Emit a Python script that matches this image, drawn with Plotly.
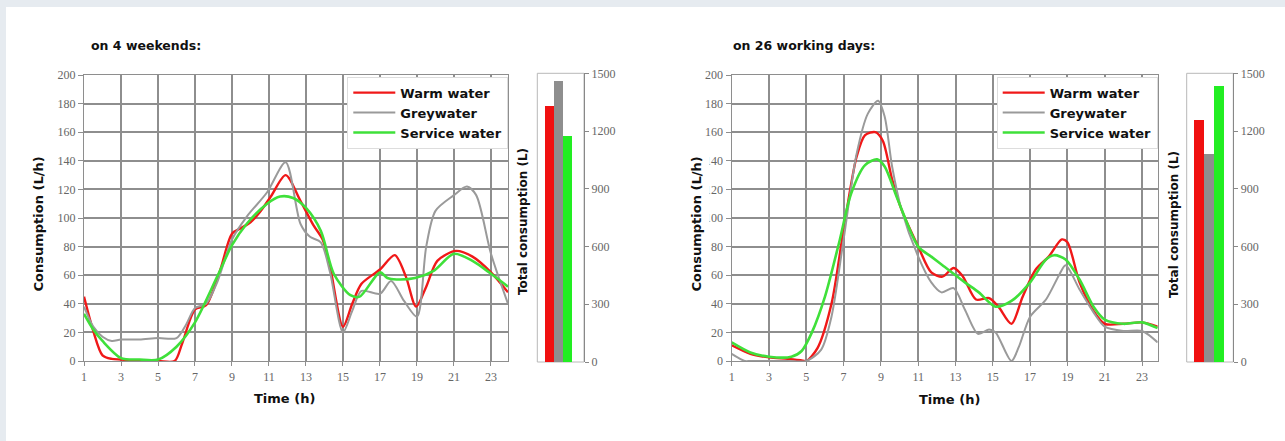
import plotly.graph_objects as go

W, H = 1285, 441

# ---------------- data: weekends (left) ----------------
we_warm_t = [1, 1.5, 2, 2.5, 3, 4, 5, 5.9, 6.3, 7, 7.6, 8.35, 9, 9.5, 10, 10.5, 11.1, 11.9, 12.7, 13.4, 13.9, 14.3, 15, 15.5, 16, 17, 17.8, 18.4, 18.95, 19.5, 20.1, 21.1, 22, 23, 23.92]
we_warm_v = [45, 21, 4, 1.5, 1, 0, 0, 0, 12, 36, 39, 63, 89, 93, 97, 104, 115, 130, 112, 95, 85, 66, 24, 40, 54, 64, 74, 59, 38, 52, 70, 77, 73, 62, 48]

we_grey_t = [1, 1.5, 2, 2.5, 3, 4, 5, 6, 6.5, 7, 7.6, 8.2, 9, 9.8, 10.9, 11.9, 12.7, 13.2, 13.8, 14.3, 15, 15.5, 16, 17, 17.6, 18.3, 19, 19.5, 20, 21, 21.7, 22.2, 23, 23.92]
we_grey_v = [38, 24, 17, 14, 15, 15, 16, 16, 25, 37, 40, 55, 85, 101, 118, 139, 96, 87, 83, 62, 20, 35, 49, 47, 56, 42, 31, 80, 105, 116, 122, 116, 75, 40]

we_serv_t = [1, 1.5, 2, 3, 4, 5, 6, 7, 8.2, 9, 9.8, 10.9, 11.6, 12.3, 13, 13.8, 14.5, 15.4, 15.9, 17, 17.4, 17.9, 18.9, 19.9, 21, 22, 23, 23.92]
we_serv_v = [33, 22, 14, 2, 1, 1, 10, 27, 59, 81, 96, 110, 115, 114, 107, 91, 61, 46, 45, 62, 58, 57, 58, 63, 75, 70, 61, 52]

we_totals = [1326, 1461, 1174]

# ---------------- data: working days (right) ----------------
wd_warm_t = [1, 2, 3, 4, 4.7, 5, 5.6, 6.35, 7, 7.7, 8.15, 8.7, 9.1, 9.6, 10.1, 11, 11.7, 12.3, 12.9, 13.4, 14.1, 14.8, 15.3, 16, 16.6, 17.3, 18, 18.7, 19, 19.65, 20.4, 21, 22, 23, 23.84]
wd_warm_v = [11, 5, 2.5, 1.5, 0.5, 0, 9, 40, 92, 143, 158, 160, 154, 127, 106, 80, 62, 59, 65, 59, 43, 44, 38, 26, 45, 64, 73, 85, 83, 55, 35, 26, 26, 27, 24]

wd_grey_t = [1, 1.7, 2, 3, 4, 5, 5.8, 6.35, 7, 7.7, 8.3, 8.85, 9.2, 9.6, 10.1, 11, 11.7, 12.25, 12.9, 13.5, 14.2, 14.8, 15.15, 16, 16.4, 17, 17.85, 18.55, 18.9, 19.65, 20.4, 21, 22, 23, 23.84]
wd_grey_v = [5, 0, 0, 0, 0, 0, 8, 31, 85, 145, 173, 182, 171, 136, 106, 73, 55, 48, 51, 36, 19, 22, 20, 0, 10, 31, 43, 60, 67, 50, 34, 24, 21, 21, 13]

wd_serv_t = [1, 2, 3, 4.2, 4.75, 5.3, 6, 6.8, 7.4, 8.15, 8.8, 9.2, 9.9, 11, 11.7, 12.3, 13.5, 14.25, 15.15, 16, 17, 17.85, 18.3, 18.9, 19.65, 20.4, 21, 22, 23, 23.84]
wd_serv_v = [13, 6, 3, 3, 7, 20, 45, 85, 117, 137, 141, 136, 113, 80, 73, 67, 55, 48, 38, 42, 55, 71, 74, 71, 57, 38, 29, 26, 27, 23]

wd_totals = [1255, 1081, 1431]

series_names = ["Warm water", "Greywater", "Service water"]
line_colors = ["#f01818", "#9a9a9a", "#3fe03a"]
bar_colors = ["#f01010", "#8e8e8e", "#22ee22"]
line_widths = [2.4, 2.0, 2.6]

x_ticks = [1, 3, 5, 7, 9, 11, 13, 15, 17, 19, 21, 23]
y_ticks = [0, 20, 40, 60, 80, 100, 120, 140, 160, 180, 200]
total_ticks = [0, 300, 600, 900, 1200, 1500]

panel_titles = ["on 4 weekends:", "on 26 working days:"]
y_title = "Consumption (L/h)"
x_title = "Time (h)"
total_title = "Total consumption (L)"

# ---------------- figure ----------------
fig = go.Figure()

left_series = [(we_warm_t, we_warm_v), (we_grey_t, we_grey_v), (we_serv_t, we_serv_v)]
right_series = [(wd_warm_t, wd_warm_v), (wd_grey_t, wd_grey_v), (wd_serv_t, wd_serv_v)]

for i, (t, v) in enumerate(left_series):
    fig.add_trace(go.Scatter(x=t, y=v, mode="lines", name=series_names[i],
                             line=dict(color=line_colors[i], width=line_widths[i], shape="spline", smoothing=0.8),
                             xaxis="x", yaxis="y", legend="legend"))
for i, (t, v) in enumerate(right_series):
    fig.add_trace(go.Scatter(x=t, y=v, mode="lines", name=series_names[i],
                             line=dict(color=line_colors[i], width=line_widths[i], shape="spline", smoothing=0.8),
                             xaxis="x2", yaxis="y2", legend="legend2"))

fig.add_trace(go.Bar(x=series_names, y=we_totals, marker=dict(color=bar_colors, line=dict(width=0)),
                     xaxis="x3", yaxis="y3", showlegend=False))
fig.add_trace(go.Bar(x=series_names, y=wd_totals, marker=dict(color=bar_colors, line=dict(width=0)),
                     xaxis="x4", yaxis="y4", showlegend=False))

def px_x(p):
    return p / W

def px_y(p):
    return 1 - p / H

grid_c = "#8e8e8e"
tick_font = dict(family="Liberation Serif, Times New Roman, serif", size=12, color="#666666")

main_y_dom = [px_y(361), px_y(75)]
bar_y_dom = [px_y(362), px_y(73.3)]

common_x = dict(showgrid=True, gridcolor=grid_c, gridwidth=1.6, tickvals=x_ticks, zeroline=False,
                showline=True, mirror=True, linecolor=grid_c, linewidth=1.4, automargin=False,
                ticks="outside", ticklen=4, tickcolor=grid_c, tickfont=tick_font, fixedrange=True)
common_y = dict(showgrid=True, gridcolor=grid_c, gridwidth=1.6, tickvals=y_ticks, range=[0, 200], zeroline=False,
                showline=True, mirror=True, linecolor=grid_c, linewidth=1.4, automargin=False,
                ticks="outside", ticklen=5, tickcolor=grid_c, tickfont=tick_font, domain=main_y_dom)
bar_y = dict(range=[0, 1500], tickvals=total_ticks, showgrid=False, zeroline=False, side="right",
             showline=True, linecolor="#888888", linewidth=1.2, ticks="outside", ticklen=4, automargin=False,
             tickcolor="#888888", tickfont=tick_font, domain=bar_y_dom)
bar_x = dict(showticklabels=False, showgrid=False, zeroline=False, ticks="", showline=False,
             type="category", automargin=False)

legend_font = dict(family="DejaVu Sans", size=13, color="#111111", weight="bold")

fig.update_layout(
    width=W, height=H,
    margin=dict(l=0, r=0, t=0, b=0, pad=0),
    paper_bgcolor="white", plot_bgcolor="white",
    bargap=0,
    xaxis=dict(common_x, domain=[px_x(84), px_x(508)], range=[1, 23.92], anchor="y"),
    yaxis=dict(common_y, anchor="x"),
    xaxis2=dict(common_x, domain=[px_x(731.7), px_x(1157.7)], range=[1, 23.84], anchor="y2"),
    yaxis2=dict(common_y, anchor="x2"),
    xaxis3=dict(bar_x, domain=[px_x(537.3), px_x(584)], range=[-1.33, 3.72], anchor="y3"),
    yaxis3=dict(bar_y, anchor="x3"),
    xaxis4=dict(bar_x, domain=[px_x(1186.7), px_x(1233.3)], range=[-1.15, 3.41], anchor="y4"),
    yaxis4=dict(bar_y, anchor="x4"),
    legend=dict(x=px_x(508.3), xanchor="right", y=px_y(76.7), yanchor="top", itemwidth=42,
                bgcolor="white", bordercolor="#dddddd", borderwidth=1, font=legend_font),
    legend2=dict(x=px_x(1157.7), xanchor="right", y=px_y(76.7), yanchor="top", itemwidth=42,
                 bgcolor="white", bordercolor="#dddddd", borderwidth=1, font=legend_font),
    font=dict(family="DejaVu Sans", color="#111111"),
)

shapes = [
    # page frame bands
    dict(type="rect", xref="paper", yref="paper", x0=0, x1=1, y0=px_y(7), y1=1,
         fillcolor="#e6ebf0", line=dict(width=0), layer="below"),
    dict(type="rect", xref="paper", yref="paper", x0=0, x1=px_x(6), y0=0, y1=1,
         fillcolor="#e6ebf0", line=dict(width=0), layer="below"),
    # bar boxes
    dict(type="rect", xref="x3 domain", yref="y3 domain", x0=0, x1=1, y0=0, y1=1,
         line=dict(color="#b8b8b8", width=1), layer="below"),
    dict(type="rect", xref="x4 domain", yref="y4 domain", x0=0, x1=1, y0=0, y1=1,
         line=dict(color="#b8b8b8", width=1), layer="below"),
]
fig.update_layout(shapes=shapes)

bold13 = dict(family="DejaVu Sans", size=13, color="#111111", weight="bold")
bold12 = dict(family="DejaVu Sans", size=12, color="#111111", weight="bold")
annotations = [
    dict(text=panel_titles[0], x=px_x(89), y=px_y(45), xref="paper", yref="paper",
         xanchor="left", yanchor="middle", showarrow=False, font=dict(bold13, size=12.5)),
    dict(text=panel_titles[1], x=px_x(731), y=px_y(45), xref="paper", yref="paper",
         xanchor="left", yanchor="middle", showarrow=False, font=dict(bold13, size=12.5)),
    dict(text=y_title, x=px_x(37.5), y=px_y(224), xref="paper", yref="paper", textangle=-90,
         xanchor="center", yanchor="middle", showarrow=False, font=bold13, bgcolor="white", borderpad=5),
    dict(text=y_title, x=px_x(695.5), y=px_y(224), xref="paper", yref="paper", textangle=-90,
         xanchor="center", yanchor="middle", showarrow=False, font=bold13, bgcolor="white", borderpad=5),
    dict(text=x_title, x=px_x(284), y=px_y(398), xref="paper", yref="paper",
         xanchor="center", yanchor="middle", showarrow=False, font=bold13),
    dict(text=x_title, x=px_x(949), y=px_y(399), xref="paper", yref="paper",
         xanchor="center", yanchor="middle", showarrow=False, font=bold13),
    dict(text=total_title, x=px_x(523), y=px_y(222), xref="paper", yref="paper", textangle=-90,
         xanchor="center", yanchor="middle", showarrow=False, font=bold12, bgcolor="white", borderpad=4),
    dict(text=total_title, x=px_x(1174), y=px_y(225), xref="paper", yref="paper", textangle=-90,
         xanchor="center", yanchor="middle", showarrow=False, font=bold12, bgcolor="white", borderpad=4),
]
fig.update_layout(annotations=annotations)

fig.write_html("out.html", config={"displayModeBar": False},
               post_script="document.body.style.margin='0px';")
